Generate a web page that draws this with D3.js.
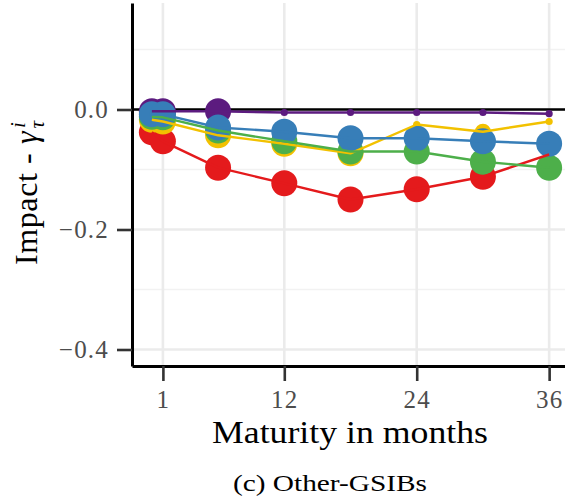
<!DOCTYPE html>
<html>
<head>
<meta charset="utf-8">
<script src="https://cdn.jsdelivr.net/npm/d3@7"></script>
<style>
  html, body { margin: 0; padding: 0; background: #fff; }
  svg { display: block; }
  text { font-family: "Liberation Serif", "Times New Roman", serif; }
</style>
</head>
<body>
<svg id="chart" width="565" height="501"></svg>
<script>
// Maturities (months) at which the impact is estimated
const maturities = [0, 1, 6, 12, 18, 24, 30, 36];

// Axis ticks
const xTicks = [1, 12, 24, 36];
const yTicks = [0, -0.2, -0.4];
const yMinorTicks = [0.1, -0.1, -0.3];

// Estimated impact per series
const impactRed    = [-0.038, -0.053, -0.097, -0.123, -0.150, -0.133, -0.112, -0.075];
const impactYellow = [-0.017, -0.020, -0.043, -0.057, -0.073, -0.025, -0.037, -0.020];
const impactGreen  = [-0.012, -0.013, -0.035, -0.053, -0.070, -0.070, -0.087, -0.097];
const impactPurple = [-0.003, -0.003, -0.003, -0.005, -0.005, -0.005, -0.005, -0.007];
const impactBlue   = [-0.008, -0.008, -0.030, -0.037, -0.048, -0.048, -0.053, -0.057];

// Significance level per estimate (0 = none, 1 = weak, 2 = strong)
const sigRed    = [2, 2, 2, 2, 2, 2, 2, 0];
const sigYellow = [2, 2, 2, 2, 2, 0, 1, 0];
const sigGreen  = [2, 2, 2, 2, 2, 2, 2, 2];
const sigPurple = [2, 2, 2, 0, 0, 0, 0, 0];
const sigBlue   = [2, 2, 2, 2, 2, 2, 2, 2];

const seriesKeys = ["red", "yellow", "green", "purple", "blue"];
const seriesColors = ["#E41A1C", "#F2C100", "#4DAF4A", "#5C1B7F", "#377EB8"];
const seriesValues = [impactRed, impactYellow, impactGreen, impactPurple, impactBlue];
const seriesSig = [sigRed, sigYellow, sigGreen, sigPurple, sigBlue];

const series = seriesKeys.map((k, i) => ({
  key: k,
  color: seriesColors[i],
  points: maturities.map((m, j) => ({ m, v: seriesValues[i][j], s: seriesSig[i][j] }))
}));

const svg = d3.select("#chart");
svg.append("rect").attr("width", 565).attr("height", 501).attr("fill", "#fff");

const panel = { left: 132, right: 569, top: 3, bottom: 366 };

const x = d3.scaleLinear().domain([-1.8, 37.8]).range([panel.left, panel.right]);
const y = d3.scaleLinear().domain([-0.4275, 0.1775]).range([panel.bottom, panel.top]);
const r = d3.scaleOrdinal().domain([0, 1, 2]).range([3.6, 8, 13]);

// Grid
const grid = svg.append("g");
grid.selectAll("line.ymin").data(yMinorTicks).join("line")
  .attr("x1", panel.left).attr("x2", panel.right)
  .attr("y1", d => y(d)).attr("y2", d => y(d))
  .attr("stroke", "#F2F2F2").attr("stroke-width", 1.4);
grid.selectAll("line.ymaj").data(yTicks).join("line")
  .attr("x1", panel.left).attr("x2", panel.right)
  .attr("y1", d => y(d)).attr("y2", d => y(d))
  .attr("stroke", "#EBEBEB").attr("stroke-width", 2.6);
grid.selectAll("line.xmaj").data(xTicks).join("line")
  .attr("x1", d => x(d)).attr("x2", d => x(d))
  .attr("y1", panel.top).attr("y2", panel.bottom)
  .attr("stroke", "#EBEBEB").attr("stroke-width", 2.6);

// Zero reference line
svg.append("line")
  .attr("x1", panel.left).attr("x2", panel.right)
  .attr("y1", y(0)).attr("y2", y(0))
  .attr("stroke", "#000").attr("stroke-width", 2.7);

// Points first, then connecting lines on top
const pts = svg.append("g");
series.forEach(s => {
  pts.selectAll(null).data(s.points).join("circle")
    .attr("cx", d => x(d.m)).attr("cy", d => y(d.v))
    .attr("r", d => r(d.s)).attr("fill", s.color);
});
const line = d3.line().x(d => x(d.m)).y(d => y(d.v));
const lines = svg.append("g");
series.forEach(s => {
  lines.append("path").datum(s.points)
    .attr("d", line).attr("fill", "none")
    .attr("stroke", s.color).attr("stroke-width", 2.4)
    .attr("stroke-linejoin", "round");
});

// Axes
const yAxis = d3.axisLeft(y).tickValues(yTicks).tickSize(15).tickSizeOuter(0)
  .tickPadding(8).tickFormat(d3.format(".1f"));
const xAxis = d3.axisBottom(x).tickValues(xTicks).tickSize(15).tickSizeOuter(0)
  .tickPadding(9).tickFormat(d3.format("d"));

function styleAxis(g) {
  g.select(".domain").attr("stroke", "#000").attr("stroke-width", 3);
  g.selectAll(".tick line").attr("stroke", "#333").attr("stroke-width", 2.6);
  g.selectAll(".tick text").attr("fill", "#4D4D4D")
    .style("font-family", "'Liberation Serif', serif").style("font-size", "25px")
    .style("letter-spacing", "1.2px");
}
svg.append("g").attr("transform", `translate(${panel.left},0)`).call(yAxis).call(styleAxis);
svg.append("g").attr("transform", `translate(0,${panel.bottom})`).call(xAxis).call(styleAxis);

// Axis titles
svg.append("text")
  .attr("x", 350).attr("y", 443)
  .attr("text-anchor", "middle")
  .attr("textLength", 276).attr("lengthAdjust", "spacingAndGlyphs")
  .style("font-size", "32px").attr("fill", "#000")
  .text("Maturity in months");

const yTitle = svg.append("text")
  .attr("transform", "translate(37,265) rotate(-90)")
  .attr("text-anchor", "start")
  .style("font-size", "32px").style("letter-spacing", "0.6px").attr("fill", "#000");
yTitle.append("tspan").text("Impact - ");
yTitle.append("tspan").style("font-style", "italic").text("γ");
yTitle.append("tspan").style("font-style", "italic").style("font-size", "21px")
  .attr("dx", 3).attr("dy", -12).text("i");
yTitle.append("tspan").style("font-style", "italic").style("font-size", "21px")
  .attr("dx", -7).attr("dy", 19).text("τ");

// Caption
svg.append("text")
  .attr("x", 330).attr("y", 491)
  .attr("text-anchor", "middle")
  .attr("textLength", 194).attr("lengthAdjust", "spacingAndGlyphs")
  .style("font-size", "24px").attr("fill", "#000")
  .text("(c) Other-GSIBs");
</script>
</body>
</html>
